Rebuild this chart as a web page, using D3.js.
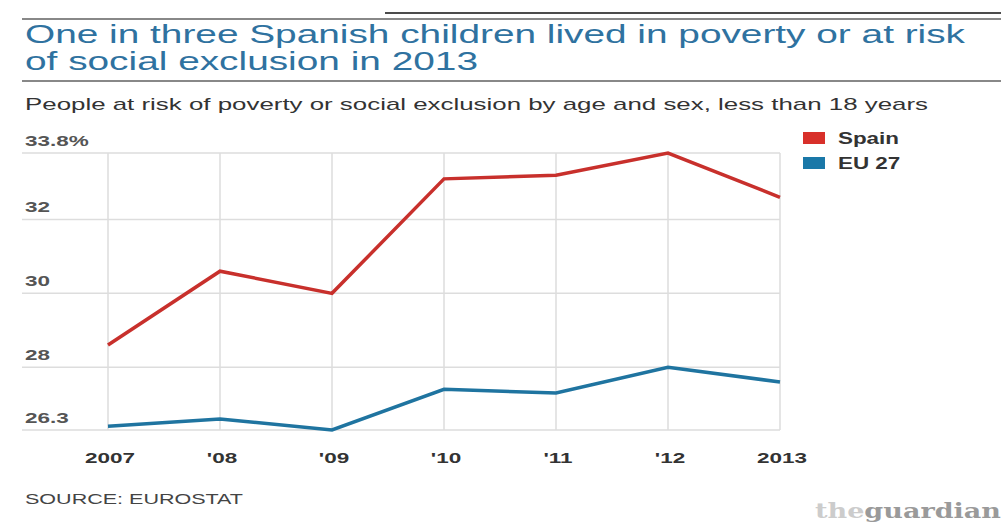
<!DOCTYPE html>
<html>
<head>
<meta charset="utf-8">
<script src="https://cdn.jsdelivr.net/npm/d3@7"></script>
<style>
  body { margin: 0; background: #fff; }
  svg { display: block; font-family: "Liberation Sans", Arial, sans-serif; }
</style>
</head>
<body>
<div id="chart"></div>
<script>
// data
var years = ["2007", "'08", "'09", "'10", "'11", "'12", "2013"];
var spain = [28.6, 30.6, 30.0, 33.1, 33.2, 33.8, 32.6];
var eu27 = [26.4, 26.6, 26.3, 27.4, 27.3, 28.0, 27.6];
var yTicks = [26.3, 28, 30, 32, 33.8];
var seriesNames = ["Spain", "EU 27"];

var W = 1001, H = 527;
var red = "#c8302c", blue = "#1f74a0";

// the original picture is stretched sideways, so text gets widened too
function widen(sel, k) {
    sel.each(function () {
        var w = this.getComputedTextLength();
        d3.select(this).attr("textLength", w * k).attr("lengthAdjust", "spacingAndGlyphs");
    });
}

var svg = d3.select("#chart").append("svg")
    .attr("width", W)
    .attr("height", H);

// top rules
svg.append("line").attr("x1", 385).attr("x2", W).attr("y1", 13).attr("y2", 13)
    .attr("stroke", "#111").attr("stroke-width", 1.5);
svg.append("line").attr("x1", 22).attr("x2", W).attr("y1", 19).attr("y2", 19)
    .attr("stroke", "#888").attr("stroke-width", 2);

// title, two lines
svg.append("text")
    .attr("x", 25).attr("y", 43)
    .attr("fill", "#2f72a0")
    .style("font-size", "25px")
    .attr("textLength", 940).attr("lengthAdjust", "spacingAndGlyphs")
    .text("One in three Spanish children lived in poverty or at risk");
svg.append("text")
    .attr("x", 25).attr("y", 70)
    .attr("fill", "#2f72a0")
    .style("font-size", "25px")
    .attr("textLength", 453).attr("lengthAdjust", "spacingAndGlyphs")
    .text("of social exclusion in 2013");

svg.append("line").attr("x1", 22).attr("x2", W).attr("y1", 81).attr("y2", 81)
    .attr("stroke", "#888").attr("stroke-width", 2);

svg.append("text")
    .attr("x", 25).attr("y", 110)
    .attr("fill", "#333")
    .style("font-size", "17px")
    .attr("textLength", 903).attr("lengthAdjust", "spacingAndGlyphs")
    .text("People at risk of poverty or social exclusion by age and sex, less than 18 years");

// scales
var x = d3.scalePoint()
    .domain(years)
    .range([108, 780]);

var y = d3.scaleLinear()
    .domain([26.3, 33.8])
    .range([430, 153]);

// horizontal grid + y labels
svg.append("g")
    .selectAll("line")
    .data(yTicks)
    .join("line")
    .attr("x1", 22).attr("x2", 780)
    .attr("y1", d => y(d)).attr("y2", d => y(d))
    .attr("stroke", "#ddd").attr("stroke-width", 1.5);

svg.append("g")
    .selectAll("text")
    .data(yTicks)
    .join("text")
    .attr("x", 25)
    .attr("y", d => y(d) - 7)
    .attr("fill", "#555")
    .style("font-size", "15px")
    .style("font-weight", "bold")
    .text(d => d === 33.8 ? "33.8%" : d)
    .call(widen, 1.5);

// vertical grid
svg.append("g")
    .selectAll("line")
    .data(years)
    .join("line")
    .attr("x1", d => x(d)).attr("x2", d => x(d))
    .attr("y1", y(33.8)).attr("y2", y(26.3))
    .attr("stroke", "#ddd").attr("stroke-width", 1.5);

// x labels
svg.append("g")
    .selectAll("text")
    .data(years)
    .join("text")
    .attr("x", d => x(d) + 2)
    .attr("y", 463)
    .attr("text-anchor", "middle")
    .attr("fill", "#333")
    .style("font-size", "15px")
    .style("font-weight", "bold")
    .text(d => d)
    .call(widen, 1.5);

// lines
var line = d3.line()
    .x((d, i) => x(years[i]))
    .y(d => y(d));

svg.append("path")
    .datum(spain)
    .attr("d", line)
    .attr("fill", "none")
    .attr("stroke", red)
    .attr("stroke-width", 3.5);

svg.append("path")
    .datum(eu27)
    .attr("d", line)
    .attr("fill", "none")
    .attr("stroke", blue)
    .attr("stroke-width", 3.5);

// legend
var legend = svg.append("g")
    .selectAll("g")
    .data(seriesNames)
    .join("g")
    .attr("transform", (d, i) => "translate(803," + (132 + i * 25) + ")");

legend.append("rect")
    .attr("width", 22).attr("height", 12)
    .attr("fill", (d, i) => i === 0 ? "#d8302a" : "#1a78a8");

legend.append("text")
    .attr("x", 35).attr("y", 12)
    .attr("fill", "#333")
    .style("font-size", "16px")
    .style("font-weight", "bold")
    .text(d => d)
    .call(widen, 1.4);

// footer
svg.append("text")
    .attr("x", 25).attr("y", 504)
    .attr("fill", "#444")
    .style("font-size", "14px")
    .attr("textLength", 218).attr("lengthAdjust", "spacingAndGlyphs")
    .text("SOURCE: EUROSTAT");

var brand = svg.append("text")
    .attr("x", 815).attr("y", 518)
    .attr("textLength", 186).attr("lengthAdjust", "spacingAndGlyphs")
    .style("font-family", "'DejaVu Serif', 'Liberation Serif', serif")
    .style("font-size", "21px")
    .style("font-weight", "bold");
brand.append("tspan").attr("fill", "#ccc").text("the");
brand.append("tspan").attr("fill", "#9a9a9a").text("guardian");
</script>
</body>
</html>
